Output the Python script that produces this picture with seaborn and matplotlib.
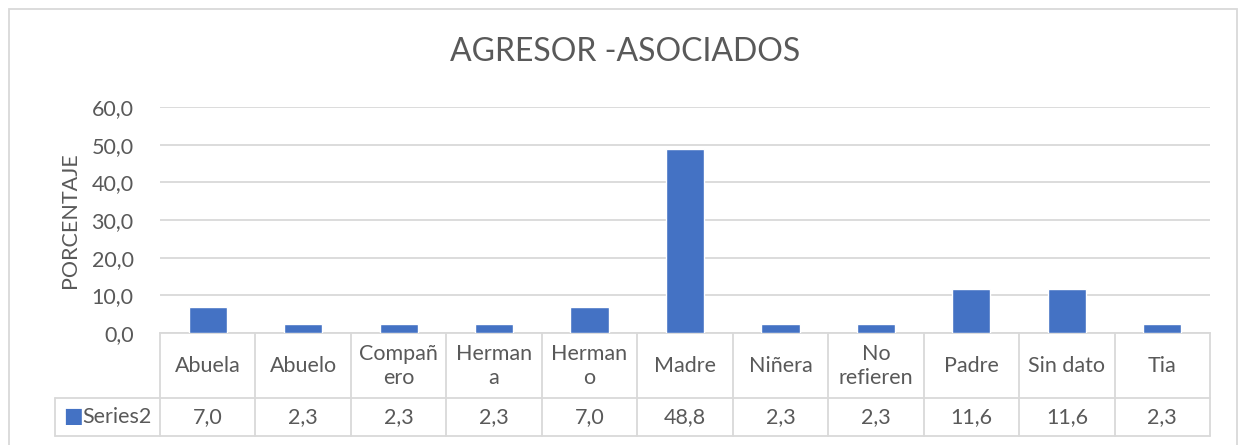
import matplotlib
matplotlib.use('Agg')
import matplotlib.pyplot as plt
import seaborn as sns
import pandas as pd

# data
categorias = ['Abuela', 'Abuelo', 'Compañero', 'Hermana', 'Hermano', 'Madre',
              'Niñera', 'No refieren', 'Padre', 'Sin dato', 'Tia']
etiquetas = ['Abuela', 'Abuelo', 'Compañ\nero', 'Herman\na', 'Herman\no', 'Madre',
             'Niñera', 'No\nrefieren', 'Padre', 'Sin dato', 'Tia']
porcentaje = [7.0, 2.3, 2.3, 2.3, 7.0, 48.8, 2.3, 2.3, 11.6, 11.6, 2.3]
serie = 'Series2'

df = pd.DataFrame({'Agresor': categorias, 'Porcentaje': porcentaje})

sns.set_style('white')
plt.rcParams['font.family'] = ['Lato', 'DejaVu Sans']

W, H = 1244, 445
fig = plt.figure(figsize=(W / 100, H / 100), dpi=100)
txt = '#595959'
grid = '#D9D9D9'
blue = '#4472C4'
fs = 15.5

# plot area in pixels
x0, x1, y_top, y_base = 160, 1210, 107, 333
ax = fig.add_axes([x0 / W, 1 - y_base / H, (x1 - x0) / W, (y_base - y_top) / H])

sns.barplot(data=df, x='Agresor', y='Porcentaje', color=blue, width=0.4,
            saturation=1, ax=ax, zorder=3)
ax.set_ylim(0, 60)
ax.set_xlim(-0.5, len(categorias) - 0.5)
ax.set_yticks(range(0, 61, 10))
ax.set_yticklabels([f'{v:.1f}'.replace('.', ',') for v in range(0, 61, 10)],
                   color=txt, fontsize=fs)
ax.tick_params(axis='y', length=0, pad=19)
ax.set_xticks([])
ax.set_xlabel('')
ax.set_ylabel('PORCENTAJE', color=txt, fontsize=fs, labelpad=8)
ax.yaxis.grid(True, color=grid, linewidth=1.3, zorder=0)
for s in ['top', 'right', 'left']:
    ax.spines[s].set_visible(False)
ax.spines['bottom'].set_color(grid)
ax.spines['bottom'].set_linewidth(1.3)
fig.text(625 / W, 1 - 52 / H, 'AGRESOR -ASOCIADOS', color=txt, fontsize=23,
         ha='center', va='center')

# data table under the axis
row1 = 65 / (y_base - y_top)   # header row height in axes units
row2 = 38 / (y_base - y_top)
left_ext = (x0 - 55) / (x1 - x0) * len(categorias)
lk = dict(color=grid, linewidth=1.3, clip_on=False, transform=ax.get_xaxis_transform())
n = len(categorias)
for i in range(n + 1):
    ax.plot([i - 0.5, i - 0.5], [0, -row1 - row2], **lk)
ax.plot([-0.5 - left_ext, n - 0.5], [-row1, -row1], **lk)
ax.plot([-0.5 - left_ext, n - 0.5], [-row1 - row2, -row1 - row2], **lk)
ax.plot([-0.5 - left_ext, -0.5 - left_ext], [-row1, -row1 - row2], **lk)

tr = ax.get_xaxis_transform()
for i, (lab, v) in enumerate(zip(etiquetas, porcentaje)):
    ax.text(i, -row1 / 2, lab, ha='center', va='center', color=txt, fontsize=fs,
            transform=tr, linespacing=1.25)
    ax.text(i, -row1 - row2 / 2, f'{v:.1f}'.replace('.', ','), ha='center',
            va='center', color=txt, fontsize=fs, transform=tr)
ax.text(-0.5 - left_ext * 0.74, -row1 - row2 / 2, serie, ha='left', va='center',
        color=txt, fontsize=fs, transform=tr)
ax.text(-0.5 - left_ext * 0.92, -row1 - row2 / 2 + 0.005, '■', ha='left', va='center',
        color=blue, fontsize=15, transform=tr, family='DejaVu Sans')

# chart border
fig.add_artist(plt.Rectangle((9 / W, -0.01), (1237 - 9) / W, 1 - 9 / H + 0.01,
                             fill=False, edgecolor=grid, linewidth=1.3,
                             transform=fig.transFigure))

fig.savefig('out.png', dpi=100)
